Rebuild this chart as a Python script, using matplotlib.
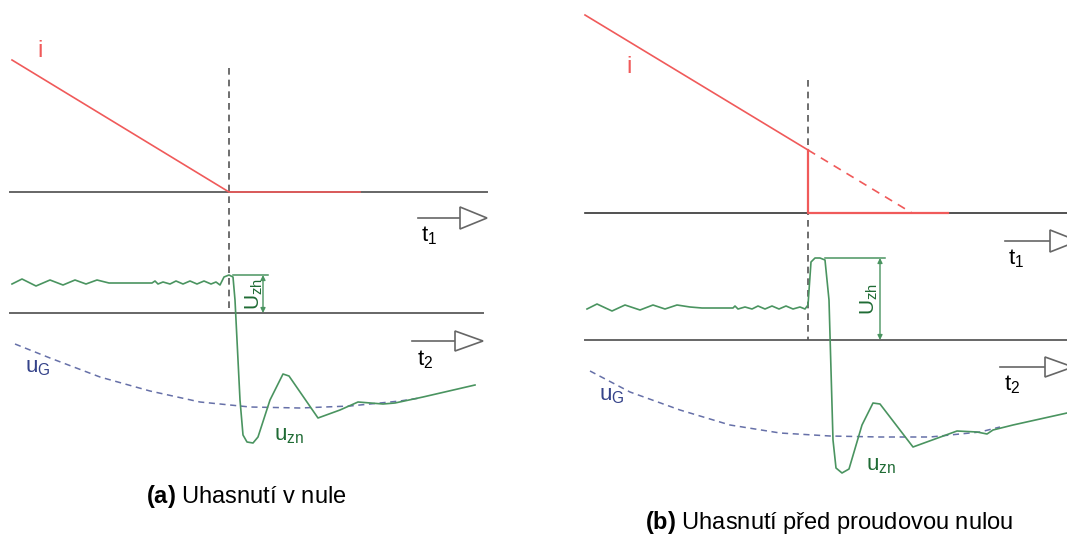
import matplotlib.pyplot as plt
from matplotlib.patches import Polygon

plt.rcParams["font.family"] = ["Liberation Sans", "DejaVu Sans"]
plt.rcParams["mathtext.fontset"] = "custom"
plt.rcParams["mathtext.rm"] = "Liberation Sans"
plt.rcParams["mathtext.it"] = "Liberation Sans"
plt.rcParams["mathtext.bf"] = "Liberation Sans:bold"

RED = "#f05a5a"
GREEN = "#4a9460"
DGREEN = "#1f6b34"
BLUE = "#6670a8"
DBLUE = "#35438a"
GRAY = "#666666"

# --- panel (a): extinction at current zero ---
A_I_X = [12, 229, 360]
A_I_Y = [60, 192, 192]
A_ZN_X = [12, 22, 36, 50, 63, 75, 86, 97, 109, 120, 152, 155, 158, 163, 170, 176,
          183, 190, 197, 204, 211, 216, 220, 224, 229, 233, 235, 240, 243, 247,
          253, 258, 270, 283, 289, 318, 340, 358, 383, 395, 423, 475]
A_ZN_Y = [284, 279, 286, 280, 285, 280, 284, 280, 283, 283, 283, 281, 284, 282, 284, 281,
          284, 281, 284, 281, 284, 282, 285, 277, 275, 277, 300, 400, 435, 442,
          443, 437, 400, 374, 376, 418, 410, 402, 404, 403, 397, 385]
A_G_X = [15, 50, 100, 150, 200, 250, 300, 350, 400, 420]
A_G_Y = [344, 358, 377, 391, 402, 407, 408, 406, 401, 398]

# --- panel (b): extinction before current zero ---
B_I_X = [585, 808]
B_I_Y = [15, 150]
B_ID_X = [808, 912]
B_ID_Y = [150, 213]
B_ICUT_X = [808, 808, 948]
B_ICUT_Y = [150, 213, 213]
B_ZN_X = [587, 597, 612, 625, 640, 653, 665, 677, 690, 702, 733, 735, 738, 745, 752,
          758, 765, 772, 779, 786, 793, 800, 805, 808, 811, 815, 820, 825, 829, 833,
          836, 842, 849, 862, 873, 880, 913, 957, 977, 987, 993, 1013, 1067]
B_ZN_Y = [309, 304, 311, 305, 310, 305, 309, 305, 307, 308, 308, 306, 309, 307, 309,
          306, 309, 306, 309, 306, 309, 307, 309, 305, 262, 258, 258, 260, 300, 440,
          468, 473, 469, 425, 403, 404, 447, 431, 432, 434, 430, 425, 413]
B_G_X = [590, 630, 680, 730, 780, 830, 880, 930, 980, 1000]
B_G_Y = [371, 392, 410, 425, 433, 436, 437, 437, 432, 427]

fig = plt.figure(figsize=(10.67, 5.37), dpi=100)
ax = fig.add_axes([0, 0, 1, 1])
ax.set_xlim(0, 1067)
ax.set_ylim(537, 0)
ax.axis("off")


def time_arrow(x0, x1, tip, y, half, label, lx, ly):
    ax.plot([x0, x1], [y, y], color=GRAY, lw=1.2)
    ax.add_patch(Polygon([(x1, y - half), (tip, y), (x1, y + half)], closed=True,
                         facecolor="white", edgecolor=GRAY, lw=1.2, zorder=3))
    ax.text(lx, ly, label, fontsize=16, ha="left", va="top", color="black")


def uzh(x_from, x_to, xa, ytop, ybot, lx):
    ax.plot([x_from, x_to], [ytop, ytop], color=GREEN, lw=1.1)
    ax.annotate("", xy=(xa, ytop), xytext=(xa, ybot),
                arrowprops=dict(arrowstyle="<|-|>", color=GREEN, lw=1.0,
                                mutation_scale=7, shrinkA=0, shrinkB=0))
    ax.text(lx, (ytop + ybot) / 2, r"U$_{zh}$", rotation=90, fontsize=15,
            color=DGREEN, ha="center", va="center")


# (a)
ax.plot([10, 487], [192, 192], color=GRAY, lw=1.4)
ax.plot([10, 483], [313, 313], color=GRAY, lw=1.4)
ax.plot([229, 229], [68, 313], color="#555555", lw=1.2, ls=(0, (4, 3)))
ax.plot(A_I_X, A_I_Y, color=RED, lw=1.2)
ax.text(37, 51, "i", color=RED, fontsize=17, ha="left", va="center")
ax.plot(A_G_X, A_G_Y, color=BLUE, lw=1.1, ls=(0, (4, 3)))
ax.plot(A_ZN_X, A_ZN_Y, color=GREEN, lw=1.2)
uzh(233, 268, 263, 275, 313, 254)
time_arrow(418, 460, 487, 218, 11, r"t$_1$", 421, 224)
time_arrow(412, 455, 483, 341, 10, r"t$_2$", 417, 348)
ax.text(25, 367, r"u$_G$", color=DBLUE, fontsize=16, ha="left", va="center")
ax.text(274, 436, r"u$_{zn}$", color=DGREEN, fontsize=16, ha="left", va="center")
ax.text(246, 497, r"$\mathbf{(a)}$ Uhasnutí v nule", fontsize=17,
        ha="center", va="center")

# (b)
ax.plot([585, 1067], [213, 213], color="#333333", lw=1.2)
ax.plot([585, 1067], [340, 340], color=GRAY, lw=1.4)
ax.plot([808, 808], [80, 340], color="#555555", lw=1.2, ls=(0, (4, 3)))
ax.plot(B_I_X, B_I_Y, color=RED, lw=1.2)
ax.plot(B_ID_X, B_ID_Y, color=RED, lw=1.2, ls=(0, (5, 4)))
ax.plot(B_ICUT_X, B_ICUT_Y, color=RED, lw=1.6)
ax.text(626, 67, "i", color=RED, fontsize=17, ha="left", va="center")
ax.plot(B_G_X, B_G_Y, color=BLUE, lw=1.1, ls=(0, (4, 3)))
ax.plot(B_ZN_X, B_ZN_Y, color=GREEN, lw=1.2)
uzh(825, 885, 880, 258, 340, 869)
time_arrow(1005, 1050, 1078, 241, 11, r"t$_1$", 1008, 247)
time_arrow(1000, 1045, 1073, 367, 10, r"t$_2$", 1004, 373)
ax.text(599, 395, r"u$_G$", color=DBLUE, fontsize=16, ha="left", va="center")
ax.text(866, 465, r"u$_{zn}$", color=DGREEN, fontsize=16, ha="left", va="center")
ax.text(829, 522, r"$\mathbf{(b)}$ Uhasnutí před proudovou nulou", fontsize=17,
        ha="center", va="center")

fig.savefig("out.png", dpi=100)
